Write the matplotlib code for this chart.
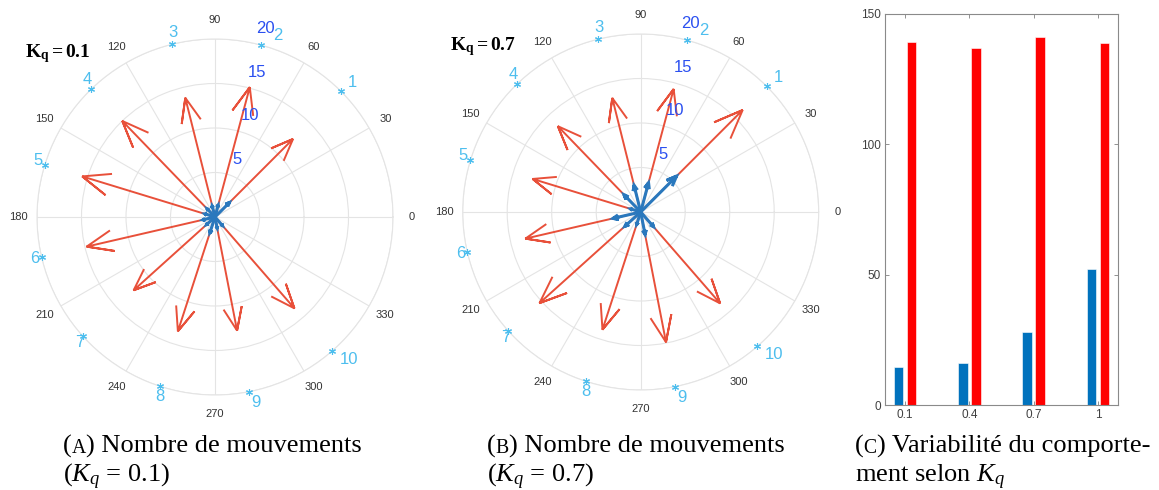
import numpy as np
import matplotlib
matplotlib.use("Agg")
import matplotlib.pyplot as plt

plt.rcParams["font.family"] = ["Liberation Sans", "DejaVu Sans"]
plt.rcParams["mathtext.fontset"] = "custom"
plt.rcParams["mathtext.rm"] = "Liberation Serif"
plt.rcParams["mathtext.it"] = "Liberation Serif:italic"
plt.rcParams["mathtext.bf"] = "Liberation Serif:bold"

# ---- data -------------------------------------------------------------
direction_deg = [45, 75, 104, 134, 163, 193, 222, 252, 281, 311]
direction_names = ["1", "2", "3", "4", "5", "6", "7", "8", "9", "10"]

# movements per direction, Kq = 0.1
moves_red_kq01 = [12.4, 15.1, 13.8, 15.0, 15.6, 14.8, 12.3, 13.5, 13.0, 13.6]
moves_blue_kq01 = [2.3, 1.4, 1.3, 1.3, 1.2, 1.4, 1.3, 1.9, 1.3, 1.3]
# movements per direction, Kq = 0.7
moves_red_kq07 = [16.2, 14.3, 13.2, 13.4, 12.7, 13.3, 15.3, 13.9, 14.9, 13.6]
moves_blue_kq07 = [5.7, 3.4, 3.1, 2.7, 1.2, 3.2, 2.4, 1.5, 2.6, 2.2]

kq_labels = ["0.1", "0.4", "0.7", "1"]
variability_blue = [14.7, 16.0, 27.9, 52.1]
variability_red = [139.3, 137.0, 141.0, 138.9]

r_ticks = [5, 10, 15, 20]
theta_ticks = list(range(0, 360, 30))

# ---- styling ----------------------------------------------------------
W, H = 1159, 490
RED = "#e8503a"
BLUE = "#2a78bd"
SKY = "#4dbeee"
RBLUE = "#2b50f0"
GRID = "#e4e4e4"
# pixel offsets of the direction names from their markers
name_offsets = [(12, 9), (17, 10), (1, 12), (-4, 9), (-7, 4),
                (-7, -1), (-3, -6), (0, -10), (7, -11), (17, -8)]

fig = plt.figure(figsize=(W / 100, H / 100), dpi=100)
fig.patch.set_facecolor("white")


def px_axes(cx, cy, rad):
    return [(cx - rad) / W, 1 - (cy + rad) / H, 2 * rad / W, 2 * rad / H]


def compass(ax, angles, lengths, color, lw):
    # compass-style arrow: shaft plus open head (20% back, 8% half width)
    a = np.array([0, 1, 0.8, 1, 0.8])
    b = np.array([0, 0, 0.08, 0, -0.08])
    for ang, L in zip(angles, lengths):
        th = np.deg2rad(ang)
        x = L * (a * np.cos(th) - b * np.sin(th))
        y = L * (a * np.sin(th) + b * np.cos(th))
        ax.plot(np.arctan2(y, x), np.hypot(x, y), color=color, lw=lw,
                solid_joinstyle="miter", solid_capstyle="butt", zorder=3)


def polar_panel(rect, red, blue, kq_text, kq_xy):
    ax = fig.add_axes(rect, projection="polar")
    ax.set_ylim(0, 20)
    ax.set_yticks(r_ticks)
    ax.set_yticklabels([])
    ax.set_xticks(np.deg2rad(theta_ticks))
    ax.set_xticklabels([])
    ax.tick_params(length=0)
    ax.grid(True, color=GRID, lw=0.8)
    ax.spines["polar"].set_color(GRID)
    ax.spines["polar"].set_linewidth(0.8)
    for t in theta_ticks:
        ax.text(np.deg2rad(t), 22.1, str(t), ha="center", va="center",
                fontsize=8, color="#333333")
    for rt in r_ticks:
        ax.annotate(str(rt), xy=(np.deg2rad(80), rt), xytext=(10, 13.5),
                    textcoords="offset pixels", ha="left", va="center",
                    fontsize=12, color=RBLUE, zorder=5)
    compass(ax, direction_deg, red, RED, 1.4)
    compass(ax, direction_deg, blue, BLUE, 2.2)
    ax.plot(np.deg2rad(direction_deg), [20] * len(direction_deg),
            linestyle="none", marker=(6, 2, 0), ms=5, mew=0.8, color=SKY,
            clip_on=False, zorder=4)
    for ang, name, off in zip(direction_deg, direction_names, name_offsets):
        ax.annotate(name, xy=(np.deg2rad(ang), 20), xytext=off,
                    textcoords="offset pixels", ha="center", va="center",
                    fontsize=12, color=SKY, annotation_clip=False)
    fig.text(kq_xy[0] / W, 1 - kq_xy[1] / H, kq_text, fontsize=14,
             ha="left", va="baseline")
    return ax


polar_panel(px_axes(215, 217, 178), moves_red_kq01, moves_blue_kq01,
            r"$\mathbf{K_q = 0.1}$", (25, 57))
polar_panel(px_axes(640.7, 212, 178), moves_red_kq07, moves_blue_kq07,
            r"$\mathbf{K_q = 0.7}$", (450, 50))

# ---- bar panel --------------------------------------------------------
bx = fig.add_axes([885 / W, 1 - 405 / H, 233 / W, 391 / H])
xpos = np.arange(1, len(kq_labels) + 1)
bx.bar(xpos - 0.1, variability_blue, width=0.15, color="#0072bd",
       edgecolor="white", linewidth=0.4)
bx.bar(xpos + 0.1, variability_red, width=0.15, color="#ff0000",
       edgecolor="white", linewidth=0.4)
bx.set_xlim(0.69, 4.31)
bx.set_ylim(0, 150)
bx.set_xticks(xpos, kq_labels)
bx.set_yticks([0, 50, 100, 150])
bx.tick_params(direction="in", top=True, right=True, length=3, width=0.6,
               color="#808080", labelsize=8.5, labelcolor="#404040", pad=3)
for sp in bx.spines.values():
    sp.set_color("#8a8a8a")
    sp.set_linewidth(0.8)

# ---- captions ---------------------------------------------------------
renderer = fig.canvas.get_renderer()
CAP = 19
serif = "Liberation Serif"


def caption_line(x_px, y_px, parts):
    x = x_px
    for s, scale in parts:
        t = fig.text(x / W, 1 - y_px / H, s, fontsize=CAP * scale,
                     family=serif, ha="left", va="baseline")
        x += t.get_window_extent(renderer).width


caption_line(63, 453, [("(", 1), ("A", 0.75), (") Nombre de mouvements", 1)])
caption_line(63, 482, [(r"($K_q$ = 0.1)", 1)])
caption_line(487, 453, [("(", 1), ("B", 0.75), (") Nombre de mouvements", 1)])
caption_line(487, 482, [(r"($K_q$ = 0.7)", 1)])
caption_line(855, 453, [("(", 1), ("C", 0.75), (") Variabilité du comporte-", 1)])
caption_line(855, 482, [(r"ment selon $K_q$", 1)])

fig.savefig("out.png", dpi=100, facecolor="white")
